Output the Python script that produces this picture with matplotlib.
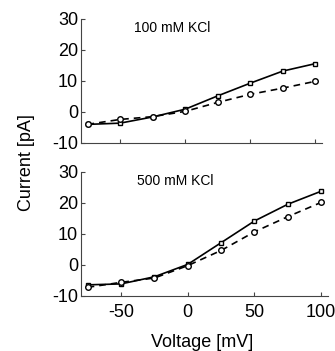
import matplotlib
matplotlib.use('Agg')
import matplotlib.pyplot as plt

plt.rcParams['font.family'] = ['Liberation Sans', 'DejaVu Sans']
plt.rcParams['axes.unicode_minus'] = False

voltage = [-75, -50, -25, 0, 25, 50, 75, 100]

# 100 mM KCl
kcl100_solid = [-4.0, -3.6, -1.6, 0.9, 5.2, 9.3, 13.2, 15.6]
kcl100_dashed = [-4.0, -2.4, -1.5, 0.2, 3.1, 5.7, 7.7, 9.9]

# 500 mM KCl
kcl500_solid = [-6.4, -6.1, -3.8, 0.2, 7.2, 14.2, 19.6, 23.8]
kcl500_dashed = [-7.2, -5.6, -4.2, -0.2, 4.7, 10.7, 15.6, 20.2]

yticks = [-10, 0, 10, 20, 30]
xticks = [-50, 0, 50, 100]

fig = plt.figure(figsize=(3.35, 3.51), dpi=100)
ax1 = fig.add_axes([0.2418, 0.5926, 0.719, 0.3533])
ax2 = fig.add_axes([0.2418, 0.1567, 0.737, 0.3533])


def draw(ax, solid, dashed, title, show_xlabels):
    ax.plot(voltage, solid, '-', color='black', lw=1.2, marker='s', ms=3.5,
            mfc='white', mec='black', mew=1.0)
    ax.plot(voltage, dashed, '--', color='black', lw=1.2, marker='o', ms=4,
            mfc='white', mec='black', mew=1.0, dashes=(4, 3))
    ax.set_xlim(-80, 105)
    ax.set_ylim(-10, 30)
    ax.set_yticks(yticks)
    ax.set_xticks(xticks)
    if not show_xlabels:
        ax.set_xticklabels([])
    ax.spines['top'].set_visible(False)
    ax.spines['right'].set_visible(False)
    ax.spines['left'].set_color('#444444')
    ax.spines['bottom'].set_color('#444444')
    ax.tick_params(direction='in', length=3, labelsize=13, color='#444444')
    ax.tick_params(axis='y', pad=2)
    ax.tick_params(axis='x', pad=6)
    ax.text(0.38, 0.93, title, transform=ax.transAxes, ha='center', va='center',
            fontsize=10)


draw(ax1, kcl100_solid, kcl100_dashed, '100 mM KCl', False)
draw(ax2, kcl500_solid, kcl500_dashed, '500 mM KCl', True)

fig.text(0.603, 0.023, 'Voltage [mV]', ha='center', va='center', fontsize=13)
fig.text(0.08, 0.536, 'Current [pA]', rotation=90, ha='center', va='center',
         fontsize=13)

fig.savefig('out.png', dpi=100)
